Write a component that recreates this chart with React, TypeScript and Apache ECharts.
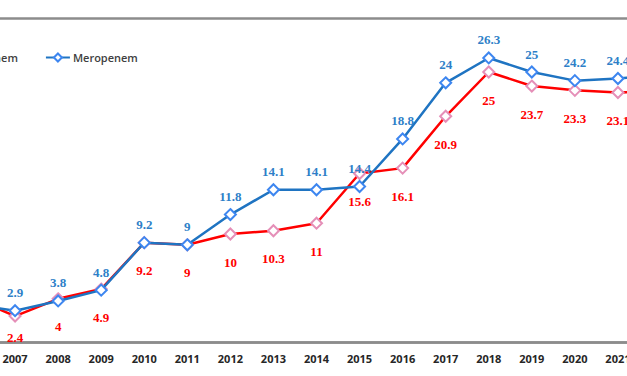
import React, { useEffect, useRef } from "react";
import * as echarts from "echarts";

const years = ["2006", "2007", "2008", "2009", "2010", "2011", "2012", "2013", "2014", "2015", "2016", "2017", "2018", "2019", "2020", "2021", "2022"];
const imipenem = [4.1, 2.4, 4, 4.9, 9.2, 9, 10, 10.3, 11, 15.6, 16.1, 20.9, 25, 23.7, 23.3, 23.1, 23.2];
const meropenem = [3.5, 2.9, 3.8, 4.8, 9.2, 9, 11.8, 14.1, 14.1, 14.4, 18.8, 24, 26.3, 25, 24.2, 24.4, 24.7];

const OFFSET = 100;

export default function App() {
  const ref = useRef<HTMLDivElement>(null);
  useEffect(() => {
    if (!ref.current) return;
    const chart = echarts.init(ref.current, undefined, { renderer: "svg" });
    chart.setOption({
      animation: false,
      legend: {
        left: 31,
        top: 47,
        itemWidth: 24,
        itemHeight: 10,
        itemGap: 27,
        textStyle: { fontFamily: "Open Sans", fontWeight: 600, fontSize: 11, color: "#404040", padding: [0, 0, 0, -2] },
        data: ["Imipenem", "Meropenem"],
      },
      grid: { left: OFFSET - 28, right: 40, top: 18, bottom: 34 },
      xAxis: {
        type: "category",
        data: years,
        boundaryGap: false,
        axisLine: { lineStyle: { color: "#8c8c8c", width: 2.5 } },
        axisTick: { show: false },
        axisLabel: { fontFamily: "Open Sans", fontWeight: 700, fontSize: 11, color: "#262626", margin: 11 },
      },
      yAxis: {
        type: "value",
        min: 0,
        max: 30,
        interval: 30,
        axisLine: { show: false },
        axisTick: { show: false },
        axisLabel: { show: false },
        splitLine: { show: true, lineStyle: { color: "#8c8c8c", width: 2.5 } },
      },
      series: [
        {
          name: "Imipenem",
          type: "line",
          data: imipenem.map((v, i) => (i === 1 ? { value: v, label: { distance: 8 } } : v)),
          z: 2,
          symbol: "diamond",
          symbolSize: 11,
          lineStyle: { color: "#ff0000", width: 2.5 },
          itemStyle: { color: "#ffffff", borderColor: "#e58fb8", borderWidth: 2 },
          label: {
            show: true,
            position: "bottom",
            distance: 15,
            fontFamily: "Liberation Serif",
            fontWeight: 700,
            fontSize: 13,
            color: "#ff0000",
          },
        },
        {
          name: "Meropenem",
          type: "line",
          data: meropenem,
          z: 3,
          symbol: "diamond",
          symbolSize: 11,
          lineStyle: { color: "#1f74c2", width: 2.5 },
          itemStyle: { color: "#ffffff", borderColor: "#3d86f0", borderWidth: 2 },
          label: {
            show: true,
            position: "top",
            distance: 5,
            fontFamily: "Liberation Serif",
            fontWeight: 700,
            fontSize: 13,
            color: "#2e7fc8",
          },
        },
      ],
    });
    return () => chart.dispose();
  }, []);
  return (
    <div style={{ position: "absolute", left: 0, top: 0, width: 627, height: 376, overflow: "hidden", background: "#fff" }}>
      <div ref={ref} style={{ position: "absolute", left: -OFFSET, top: 0, width: 801, height: 376 }} />
    </div>
  );
}
